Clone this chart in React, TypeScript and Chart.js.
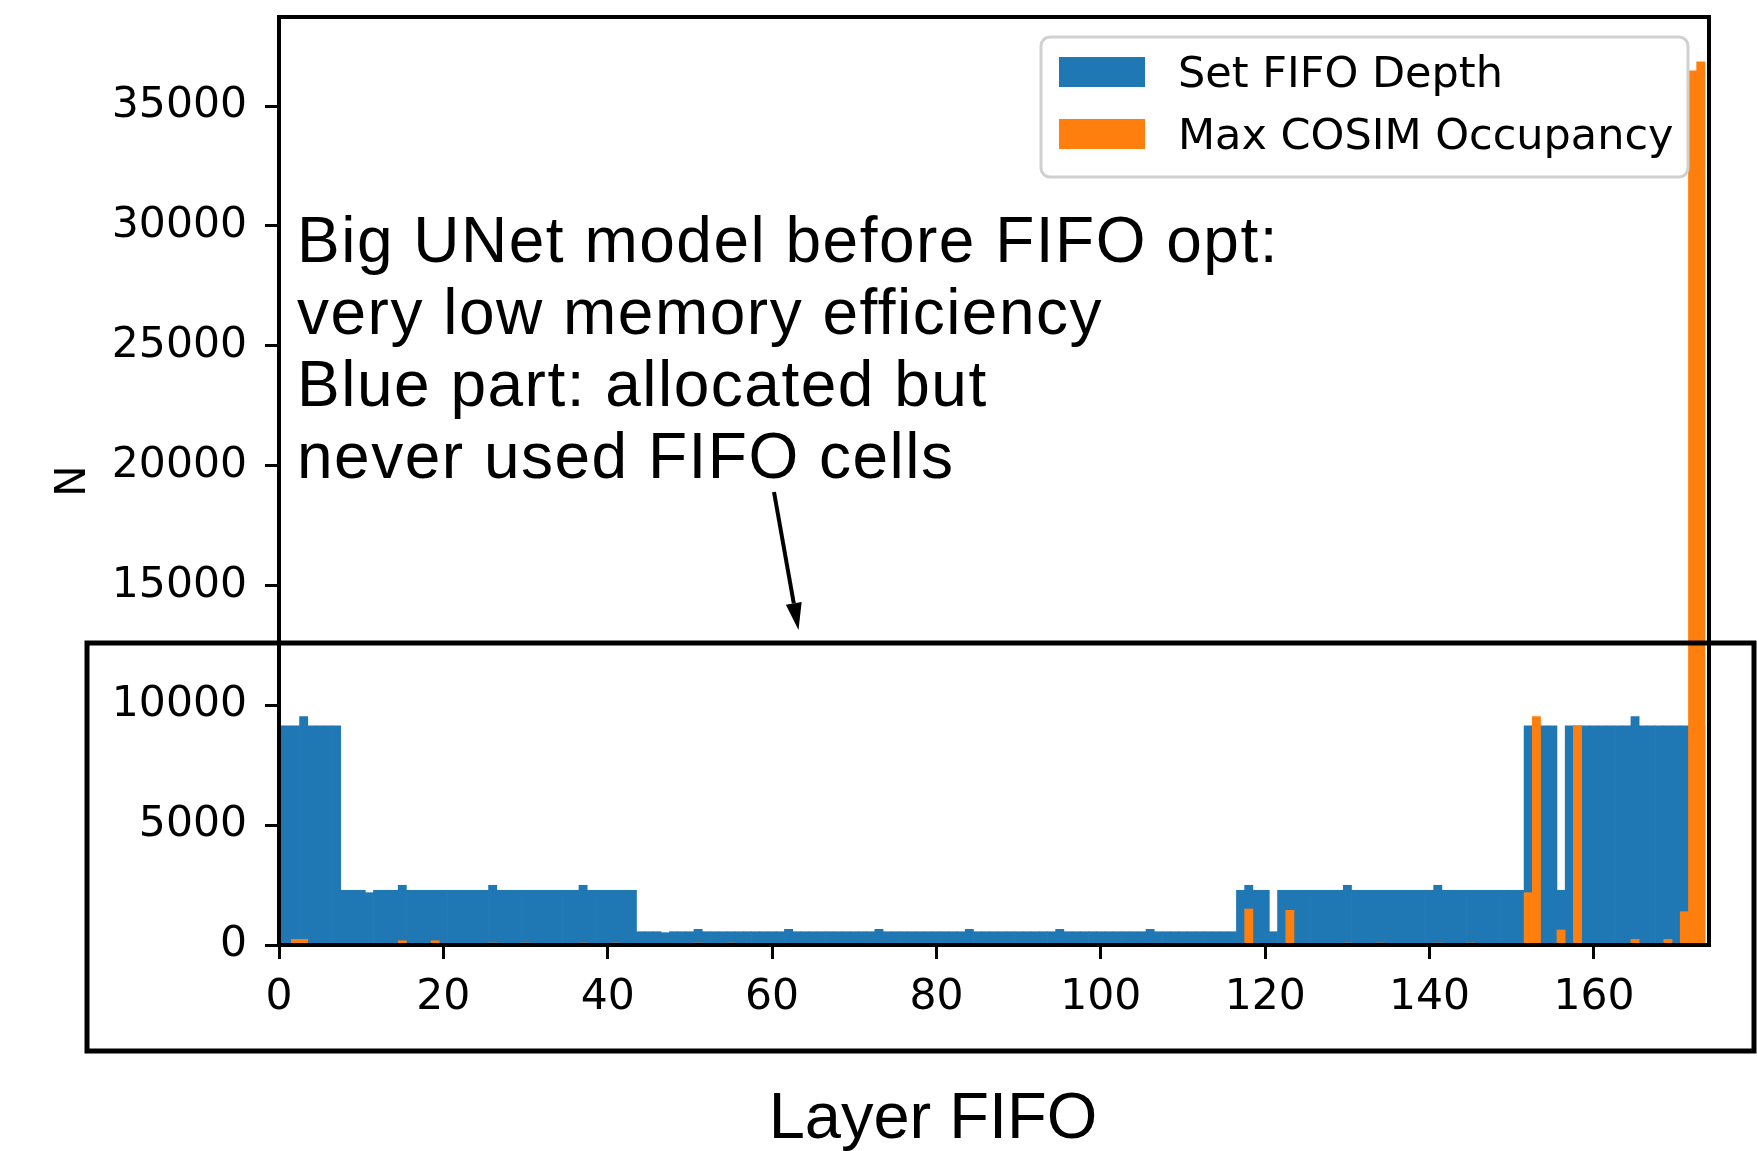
import React, { useEffect, useRef } from "react";
import { Chart, registerables } from "chart.js";

Chart.register(...registerables);

// ---- data ----
const seriesLabels = ["Set FIFO Depth", "Max COSIM Occupancy"];
const xTickValues = [0, 20, 40, 60, 80, 100, 120, 140, 160];
const yTickValues = [0, 5000, 10000, 15000, 20000, 25000, 30000, 35000];

const setFifoDepth = [
  9140, 9140, 9140, 9530, 9140, 9140, 9140, 9140, 2283, 2283,
  2283, 2183, 2283, 2283, 2283, 2492, 2283, 2283, 2283, 2283,
  2283, 2283, 2283, 2283, 2283, 2283, 2492, 2283, 2283, 2283,
  2283, 2283, 2283, 2283, 2283, 2283, 2283, 2492, 2283, 2283,
  2283, 2283, 2283, 2283, 555, 555, 555, 513, 555, 555,
  555, 655, 555, 555, 555, 555, 555, 555, 555, 555,
  555, 555, 655, 555, 555, 555, 555, 555, 555, 555,
  555, 555, 555, 655, 555, 555, 555, 555, 555, 555,
  555, 555, 555, 555, 655, 555, 555, 555, 555, 555,
  555, 555, 555, 555, 555, 655, 555, 555, 555, 555,
  555, 555, 555, 555, 555, 555, 655, 555, 555, 555,
  555, 555, 555, 555, 555, 555, 555, 2283, 2492, 2283,
  2283, 555, 2283, 2283, 2283, 2283, 2283, 2283, 2283, 2283,
  2492, 2283, 2283, 2283, 2283, 2283, 2283, 2283, 2283, 2283,
  2283, 2492, 2283, 2283, 2283, 2283, 2283, 2283, 2283, 2283,
  2283, 2283, 9140, 9140, 9140, 9140, 2283, 9140, 9140, 9140,
  9140, 9140, 9140, 9140, 9140, 9530, 9140, 9140, 9140, 9140,
  9140, 9140, 9140, 9140,
];

const maxCosimOccupancy = [
  0, 0, 238, 238, 0, 0, 0, 0, 0, 0,
  0, 0, 0, 0, 0, 180, 0, 0, 0, 180,
  0, 0, 0, 0, 0, 0, 80, 0, 0, 0,
  80, 0, 0, 0, 0, 0, 0, 80, 0, 0,
  0, 80, 0, 0, 0, 0, 0, 0, 0, 0,
  0, 80, 0, 0, 0, 80, 0, 0, 0, 0,
  0, 0, 0, 0, 0, 0, 0, 0, 0, 0,
  0, 0, 0, 0, 0, 0, 0, 0, 0, 0,
  0, 0, 0, 0, 0, 0, 0, 0, 0, 0,
  0, 0, 0, 0, 0, 0, 0, 0, 0, 0,
  0, 0, 0, 0, 0, 0, 0, 0, 0, 0,
  0, 0, 0, 0, 0, 0, 0, 0, 1503, 0,
  0, 0, 0, 1448, 0, 0, 0, 0, 0, 0,
  80, 0, 0, 0, 80, 0, 0, 0, 0, 0,
  0, 80, 0, 0, 0, 80, 0, 0, 0, 0,
  0, 0, 2183, 9530, 0, 0, 626, 0, 9140, 0,
  0, 0, 0, 0, 0, 238, 0, 0, 0, 238,
  0, 1390, 36477, 36853,
];

const annotationLines = [
  "Big UNet model before FIFO opt:",
  "very low memory efficiency",
  "Blue part: allocated but",
  "never used FIFO cells",
];
const xAxisTitle = "Layer FIFO";
const yAxisTitle = "N";

const BLUE = "#1f77b4";
const ORANGE = "#ff7f0e";
const TICK_FONT = { family: "'DejaVu Sans'", size: 42.5 };

export default function App() {
  const canvasRef = useRef<HTMLCanvasElement | null>(null);

  useEffect(() => {
    const canvas = canvasRef.current;
    if (!canvas) return;

    const framePlugin = {
      id: "frame",
      afterDatasetsDraw(chart: any) {
        const { ctx, chartArea } = chart;
        ctx.save();
        ctx.strokeStyle = "#000";
        ctx.lineWidth = 4;
        ctx.strokeRect(
          chartArea.left,
          chartArea.top,
          chartArea.right - chartArea.left,
          chartArea.bottom - chartArea.top
        );
        ctx.restore();
      },
    };

    const legendPlugin = {
      id: "innerLegend",
      afterDraw(chart: any) {
        const { ctx } = chart;
        const x0 = 1041, y0 = 37, w = 647, h = 140, r = 9;
        ctx.save();
        ctx.beginPath();
        ctx.moveTo(x0 + r, y0);
        ctx.lineTo(x0 + w - r, y0);
        ctx.arcTo(x0 + w, y0, x0 + w, y0 + r, r);
        ctx.lineTo(x0 + w, y0 + h - r);
        ctx.arcTo(x0 + w, y0 + h, x0 + w - r, y0 + h, r);
        ctx.lineTo(x0 + r, y0 + h);
        ctx.arcTo(x0, y0 + h, x0, y0 + h - r, r);
        ctx.lineTo(x0, y0 + r);
        ctx.arcTo(x0, y0, x0 + r, y0, r);
        ctx.closePath();
        ctx.fillStyle = "rgba(255,255,255,0.8)";
        ctx.fill();
        ctx.strokeStyle = "#d0d0d0";
        ctx.lineWidth = 3;
        ctx.stroke();
        chart.data.datasets.forEach((ds: any, i: number) => {
          const py = 57 + i * 62;
          ctx.fillStyle = ds.backgroundColor;
          ctx.fillRect(1059, py, 86, 30);
          ctx.fillStyle = "#000";
          ctx.font = "43px 'DejaVu Sans'";
          ctx.textBaseline = "alphabetic";
          ctx.textAlign = "left";
          ctx.fillText(ds.label, 1178, py + 30);
        });
        ctx.restore();
      },
    };

    const chart = new Chart(canvas, {
      type: "bar",
      data: {
        datasets: [
          {
            label: seriesLabels[0],
            data: setFifoDepth.map((v, i) => ({ x: i, y: v })),
            backgroundColor: BLUE,
            borderWidth: 0,
            grouped: false,
            barPercentage: 1,
            categoryPercentage: 1,
            clip: 0,
            order: 2,
          } as any,
          {
            label: seriesLabels[1],
            data: maxCosimOccupancy.map((v, i) => ({ x: i, y: v })),
            backgroundColor: ORANGE,
            borderWidth: 0,
            grouped: false,
            barPercentage: 1,
            categoryPercentage: 1,
            clip: 0,
            order: 1,
          } as any,
        ],
      },
      options: {
        responsive: false,
        animation: false,
        devicePixelRatio: 1,
        layout: { padding: { left: 48, right: 48, top: 17, bottom: 136 } },
        plugins: { legend: { display: false }, tooltip: { enabled: false } },
        scales: {
          x: {
            type: "linear",
            min: 0,
            max: 174,
            offset: false,
            afterBuildTicks: (s: any) => {
              s.ticks = xTickValues.map((v) => ({ value: v }));
            },
            afterFit: (s: any) => {
              s.height = 70;
              s.paddingLeft = 0;
              s.paddingRight = 0;
            },
            grid: {
              offset: false,
              drawOnChartArea: false,
              drawTicks: true,
              tickLength: 14,
              tickWidth: 3,
              tickColor: "#000",
            },
            border: { display: false },
            ticks: {
              font: TICK_FONT,
              color: "#000",
              padding: 13,
              maxRotation: 0,
              autoSkip: false,
            },
          } as any,
          y: {
            type: "linear",
            min: 0,
            max: 38720,
            afterBuildTicks: (s: any) => {
              s.ticks = yTickValues.map((v) => ({ value: v }));
            },
            afterFit: (s: any) => {
              s.width = 231;
              s.paddingTop = 0;
              s.paddingBottom = 0;
            },
            grid: {
              drawOnChartArea: false,
              drawTicks: true,
              tickLength: 14,
              tickWidth: 3,
              tickColor: "#000",
            },
            border: { display: false },
            ticks: {
              font: TICK_FONT,
              color: "#000",
              padding: 18,
              autoSkip: false,
              callback: (v: any) => String(v),
            },
            title: {
              display: true,
              text: yAxisTitle,
              font: TICK_FONT,
              color: "#000",
              padding: 0,
            },
          } as any,
        },
      },
      plugins: [framePlugin, legendPlugin],
    });

    return () => chart.destroy();
  }, []);

  // arrow geometry for the annotation
  const ax1 = 774, ay1 = 492, ax2 = 798.5, ay2 = 630;
  const len = Math.hypot(ax2 - ax1, ay2 - ay1);
  const ux = (ax2 - ax1) / len, uy = (ay2 - ay1) / len;
  const hl = 27, hw = 8;
  const bx = ax2 - ux * hl, by = ay2 - uy * hl;
  const head = `${ax2},${ay2} ${bx - uy * hw},${by + ux * hw} ${bx + uy * hw},${by - ux * hw}`;

  return (
    <div
      style={{
        position: "fixed",
        left: 0,
        top: 0,
        width: 1757,
        height: 1151,
        background: "#fff",
        overflow: "hidden",
      }}
    >
      <canvas
        ref={canvasRef}
        width={1757}
        height={1151}
        style={{ position: "absolute", left: 0, top: 0, width: 1757, height: 1151 }}
      />
      <svg
        width={1757}
        height={1151}
        style={{ position: "absolute", left: 0, top: 0, pointerEvents: "none" }}
      >
        {annotationLines.map((t, i) => (
          <text
            key={i}
            x={297}
            y={262 + i * 72}
            fontFamily="'Liberation Sans', Arial, sans-serif"
            fontSize={64}
            letterSpacing={1.5}
            fill="#000"
          >
            {t}
          </text>
        ))}
        <line x1={ax1} y1={ay1} x2={bx} y2={by} stroke="#000" strokeWidth={4} />
        <polygon points={head} fill="#000" />
        <rect x={87} y={643} width={1667} height={408} fill="none" stroke="#000" strokeWidth={5} />
        <text
          x={933}
          y={1138}
          textAnchor="middle"
          fontFamily="'Liberation Sans', Arial, sans-serif"
          fontSize={65}
          fill="#000"
        >
          {xAxisTitle}
        </text>
      </svg>
    </div>
  );
}
